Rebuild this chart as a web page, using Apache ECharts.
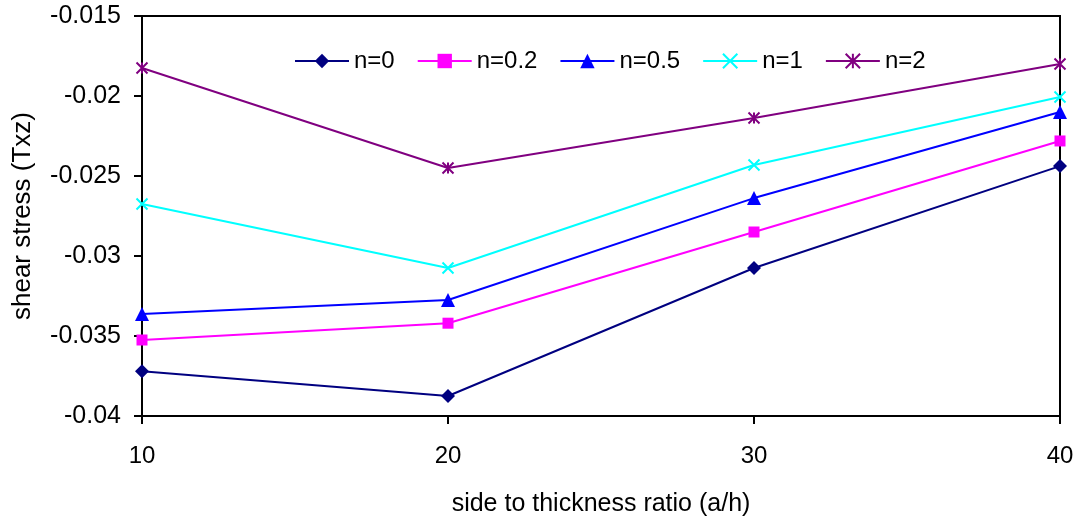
<!DOCTYPE html>
<html>
<head>
<meta charset="utf-8">
<script src="https://cdn.jsdelivr.net/npm/echarts@6/dist/echarts.min.js"></script>
<style>
html,body{margin:0;padding:0;background:#fff;}
#chart{width:1078px;height:519px;}
</style>
</head>
<body>
<div id="chart"></div>
<script>
var xValues = [10, 20, 30, 40];
var seriesNames = ['n=0', 'n=0.2', 'n=0.5', 'n=1', 'n=2'];
var n0  = [-0.0372, -0.03875, -0.03075, -0.02438];
var n02 = [-0.03525, -0.0342, -0.0285, -0.02281];
var n05 = [-0.03363, -0.03275, -0.02638, -0.0210];
var n1  = [-0.02675, -0.03075, -0.02431, -0.02006];
var n2  = [-0.01825, -0.0245, -0.02138, -0.0180];
var yTicks = [-0.04, -0.035, -0.03, -0.025, -0.02, -0.015];

var colors = ['#000080', '#FF00FF', '#0000FF', '#00FFFF', '#800080'];
var symbols = ['diamond', 'rect', 'triangle',
  'path://M0,0L10,10M10,0L0,10',
  'path://M0,0L10,10M10,0L0,10M5,0L5,10'];
var sizes = [14, 11, 14, 11, 11];
var allData = [n0, n02, n05, n1, n2];

function pairs(arr){ return xValues.map(function(x,i){ return [x, arr[i]]; }); }

var series = seriesNames.map(function(name, k){
  var stroke = k >= 3;
  return {
    name: name,
    type: 'line',
    data: pairs(allData[k]),
    symbol: symbols[k],
    symbolSize: sizes[k],
    showAllSymbol: true,
    lineStyle: {color: colors[k], width: 2},
    itemStyle: {color: colors[k], borderColor: colors[k], borderWidth: stroke ? 2 : 0},
    emphasis: {disabled: true}
  };
});

var chart = echarts.init(document.getElementById('chart'), null, {renderer: 'canvas'});
chart.setOption({
  animation: false,
  backgroundColor: '#fff',
  textStyle: {fontFamily: 'Liberation Sans, Arial, sans-serif'},
  grid: {left: 142, right: 18, top: 16, bottom: 103, outerBoundsMode: 'none', containLabel: false,
    show: true, borderColor: '#000', borderWidth: 2, backgroundColor: 'transparent'},
  legend: {
    data: seriesNames,
    left: 289, top: 44,
    itemWidth: 54, itemHeight: 18, itemGap: 22,
    textStyle: {fontSize: 24, color: '#000', fontFamily: 'Liberation Sans, Arial, sans-serif'}
  },
  xAxis: {
    type: 'value', min: 10, max: 40, interval: 10,
    name: 'side to thickness ratio (a/h)', nameLocation: 'middle', nameGap: 76,
    nameTextStyle: {fontSize: 25, color: '#000'},
    axisLine: {show: true, lineStyle: {color: '#000', width: 2}},
    axisTick: {show: true, length: 8, lineStyle: {color: '#000', width: 2}},
    axisLabel: {fontSize: 24, color: '#000', margin: 28},
    splitLine: {show: false}
  },
  yAxis: {
    type: 'value', min: -0.04, max: -0.015, interval: 0.005,
    name: 'shear stress (Txz)', nameLocation: 'middle', nameGap: 106,
    nameTextStyle: {fontSize: 26, color: '#000'},
    axisLine: {show: true, lineStyle: {color: '#000', width: 2}},
    axisTick: {show: true, length: 8, lineStyle: {color: '#000', width: 2}},
    axisLabel: {fontSize: 25, color: '#000', margin: 21,
      formatter: function(v){ var r = Math.round(v*1000)/1000; var t = yTicks.filter(function(y){return Math.abs(y-r)<1e-9;}); return String(t.length?t[0]:r); }},
    splitLine: {show: false}
  },
  series: series
});
</script>
</body>
</html>
